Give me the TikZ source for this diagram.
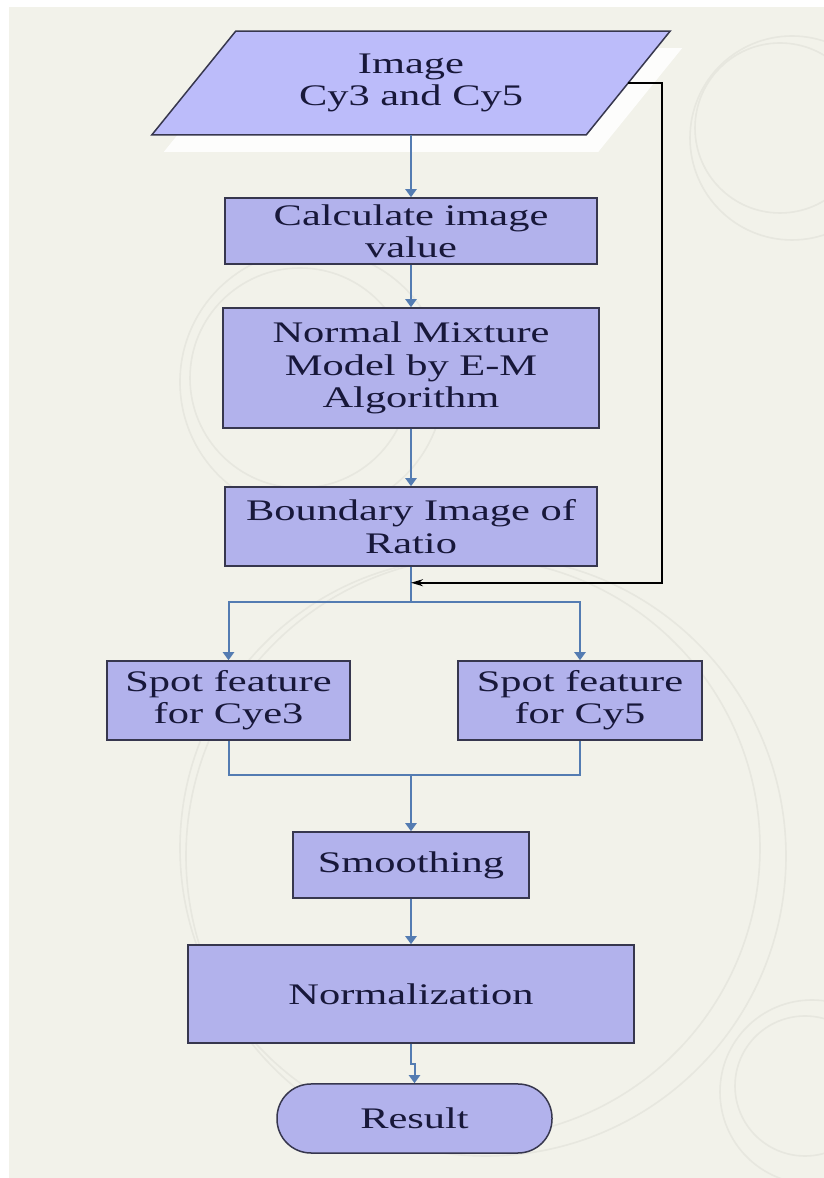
\documentclass[tikz,border=0pt]{standalone}
\usepackage{fontspec}
\setmainfont{Liberation Serif}[FakeStretch=1.42]
\usepackage{tikz}
\usetikzlibrary{arrows.meta,shadows}

\definecolor{pagebg}{RGB}{242,242,234}
\definecolor{swirl}{RGB}{231,231,223}
\definecolor{boxfill}{RGB}{178,178,236}
\definecolor{imgfill}{RGB}{188,188,250}
\definecolor{boxline}{RGB}{55,55,78}
\definecolor{flowblue}{RGB}{84,124,178}
\definecolor{inktext}{RGB}{24,24,58}

\begin{document}
\begin{tikzpicture}[
    x=1bp, y=1bp,
    font=\fontsize{30}{32.5}\selectfont,
    box/.style={draw=boxline, fill=boxfill, line width=1.5bp, align=center,
                inner sep=0pt, text=inktext},
    flow/.style={draw=flowblue, line width=2bp},
    flowarrow/.style={flow, -{Triangle[length=8bp,width=11bp]}},
    backarrow/.style={draw=black, line width=1.6bp, -{Stealth[length=12bp,width=7bp]}}
]
\useasboundingbox (0,0) rectangle (824,1178);

% page and faint background rings
\fill[white] (0,0) rectangle (824,1178);
\fill[pagebg] (9,0) rectangle (824,1171);
\begin{scope}
    \clip (9,0) rectangle (824,1171);
    \begin{scope}[swirl, line width=1.6bp]
        \draw (780,1050) circle (85);
        \draw (792,1040) circle (102);
        \draw (300,800) circle (110);
        \draw (312,796) circle (132);
        \draw (470,330) circle (290);
        \draw (486,322) circle (300);
        \draw (805,92) circle (70);
        \draw (812,86) circle (92);
    \end{scope}
\end{scope}

\node[align=center, text=inktext, minimum width=518bp, minimum height=103.5bp, inner sep=0pt] (img) at (411,1095) {};
\draw[draw=boxline, fill=imgfill, line width=1.5bp,
      drop shadow={fill=white, opacity=.9, shadow xshift=12bp, shadow yshift=-17bp}]
    (img.south west) -- ([xshift=84bp]img.north west) -- (img.north east)
    -- ([xshift=-84bp]img.south east) -- cycle;
\node[align=center, text=inktext] at (img.center) {Image\\Cy3 and Cy5};

\node[box, minimum width=372bp, minimum height=66bp] (calc) at (411,947) {Calculate image\\value};
\node[box, minimum width=376bp, minimum height=120bp] (mix) at (411,810) {Normal Mixture\\Model by E-M\\Algorithm};
\node[box, minimum width=372bp, minimum height=79bp] (bnd) at (411,651.5) {Boundary Image of\\Ratio};
\node[box, minimum width=243bp, minimum height=79bp] (spotA) at (228.5,477.5) {Spot feature\\for Cye3};
\node[box, minimum width=244bp, minimum height=79bp] (spotB) at (580,477.5) {Spot feature\\for Cy5};
\node[box, minimum width=236bp, minimum height=66bp] (smooth) at (411,313) {Smoothing};
\node[box, minimum width=446bp, minimum height=98bp] (norm) at (411,184) {Normalization};
\node[box, minimum width=275bp, minimum height=69bp, rounded corners=34bp] (res) at (414.5,59.5) {Result};

\draw[flowarrow] (img.south) -- (calc.north);
\draw[flowarrow] (calc.south) -- (mix.north);
\draw[flowarrow] (mix.south) -- (bnd.north);

% split to the two spot boxes
\draw[flow] (bnd.south) -- ++(0,-35) coordinate (split);
\draw[flowarrow] (split) -| (spotA.north);
\draw[flowarrow] (split) -| (spotB.north);

% feedback from the image
\draw[backarrow] ([xshift=-42bp]img.east) -- ++(34,0) |- ([yshift=-16bp]bnd.south);

% merge again
\path (spotA.south) ++(0,-34) coordinate (merge);
\draw[flow] (spotA.south) -- (merge) -| (spotB.south);
\draw[flowarrow] (merge -| smooth.north) -- (smooth.north);
\draw[flowarrow] (smooth.south) -- (norm.north);
\draw[flowarrow] (norm.south) -- ++(0,-20) -| (res.north);

\end{tikzpicture}
\end{document}
